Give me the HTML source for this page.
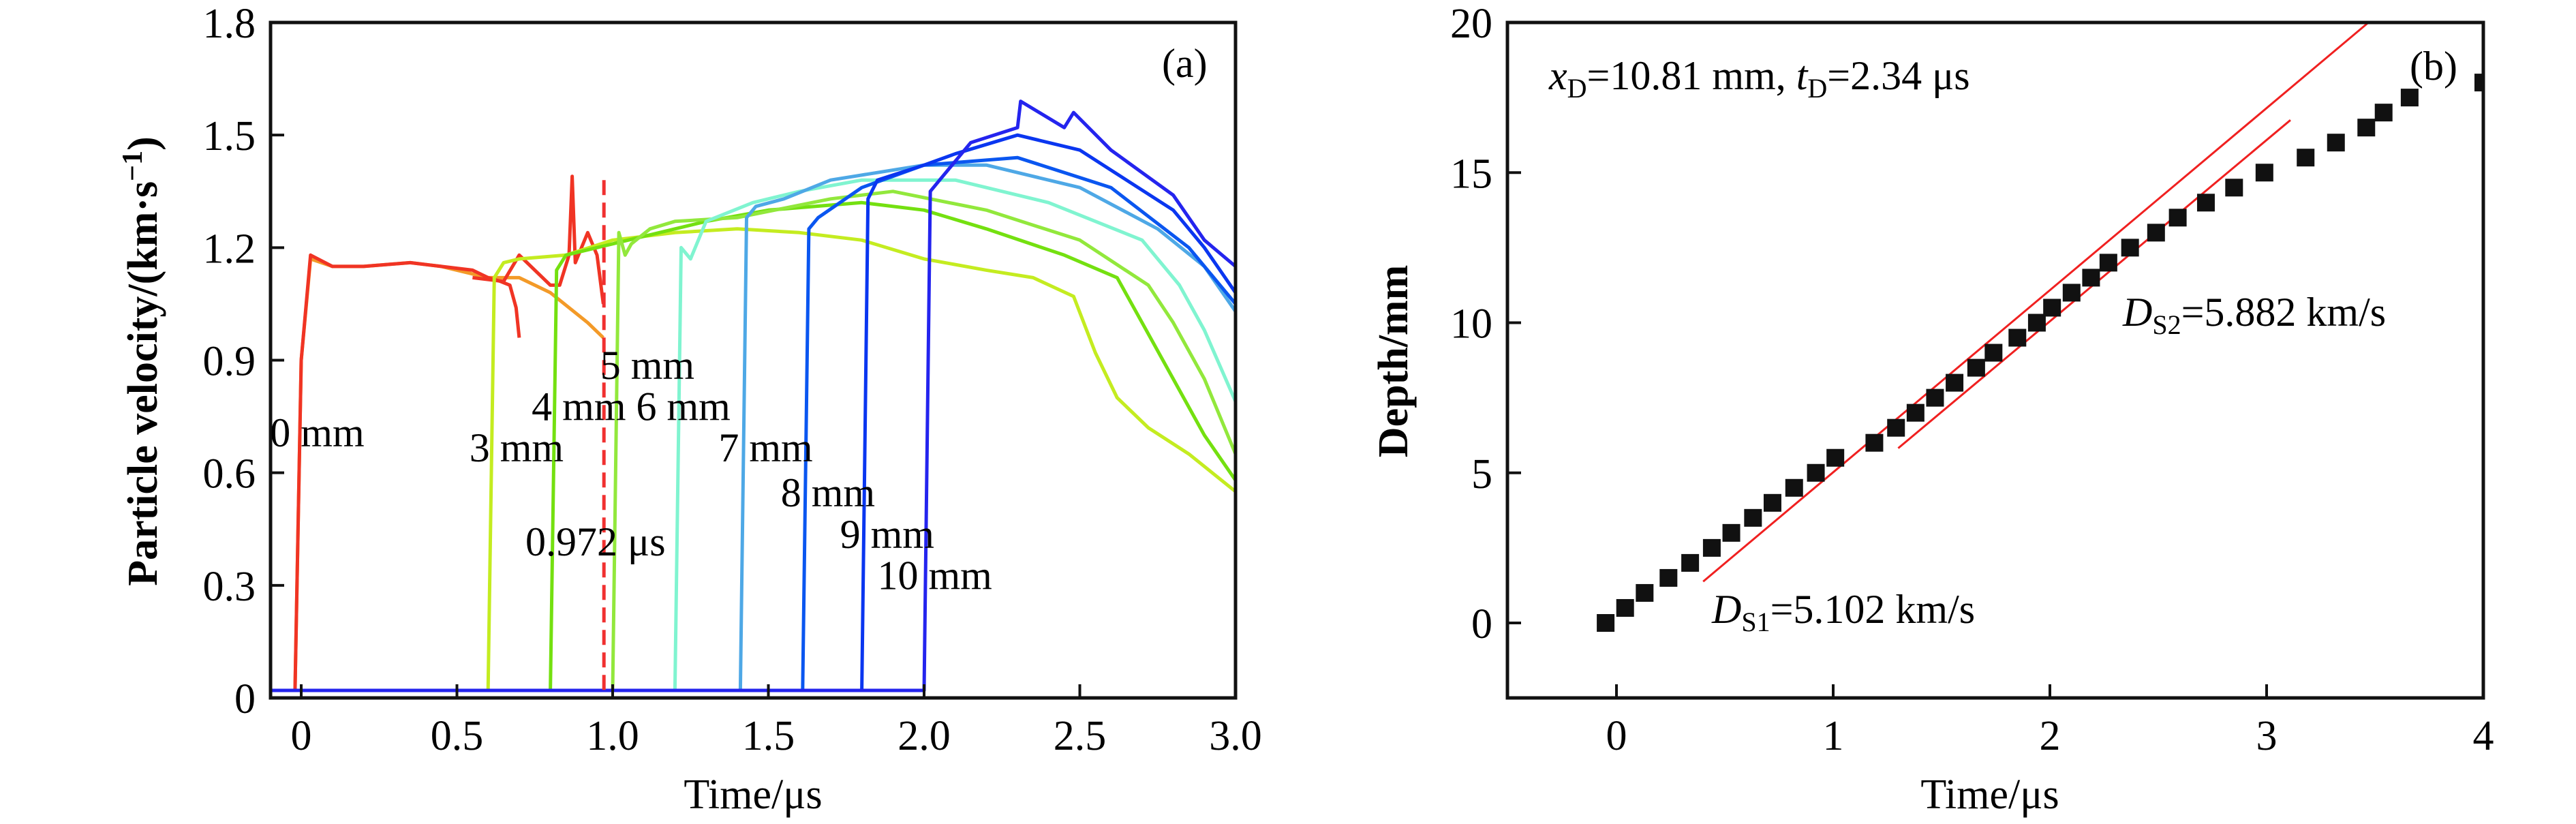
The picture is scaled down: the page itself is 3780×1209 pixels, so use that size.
<!DOCTYPE html>
<html><head><meta charset="utf-8">
<style>
html,body{margin:0;padding:0;background:#fff;}
svg{display:block;font-family:"Liberation Serif",serif;}
</style></head>
<body>
<svg id="chart" width="3780" height="1209" viewBox="0 0 3780 1209" xmlns="http://www.w3.org/2000/svg">
<rect width="3780" height="1209" fill="#fff"/>
<g id="pa"></g>
<g id="pb"></g>
</svg>
<script>
// ---- Panel (a) data ----
const aXTicks = [0, 0.5, 1.0, 1.5, 2.0, 2.5, 3.0];
const aXTickLabels = ["0", "0.5", "1.0", "1.5", "2.0", "2.5", "3.0"];
const aYTicks = [0, 0.3, 0.6, 0.9, 1.2, 1.5, 1.8];
const aYTickLabels = ["0", "0.3", "0.6", "0.9", "1.2", "1.5", "1.8"];
const seriesNames = ["0mm-a", "0mm-b", "0mm-c", "3mm", "4mm", "5mm", "6mm", "7mm", "8mm", "9mm", "10mm"];
const seriesColors = ["#f39a28", "#f03424", "#f03424", "#c4ec20", "#74e010", "#92e83c", "#80f4d0", "#4ea8e6", "#0a56f0", "#0a36f0", "#2424ee"];
const seriesT = [
 [-0.1,-0.02,0.0,0.03,0.1,0.2,0.35,0.45,0.6,0.7,0.8,0.86,0.92,0.97],
 [-0.1,-0.02,0.0,0.03,0.1,0.2,0.35,0.45,0.55,0.6,0.64,0.67,0.69,0.70],
 [0.55,0.65,0.7,0.8,0.83,0.86,0.87,0.88,0.9,0.92,0.95,0.97],
 [-0.1,0.6,0.62,0.65,0.7,0.85,1.0,1.2,1.4,1.6,1.8,2.0,2.2,2.35,2.48,2.55,2.62,2.72,2.85,3.0],
 [-0.1,0.8,0.82,0.85,1.0,1.1,1.3,1.5,1.8,2.0,2.2,2.45,2.62,2.7,2.8,2.9,3.0],
 [-0.1,1.0,1.02,1.04,1.06,1.12,1.2,1.4,1.7,1.9,2.2,2.5,2.72,2.8,2.9,3.0],
 [-0.1,1.2,1.22,1.25,1.3,1.45,1.6,1.8,2.1,2.4,2.7,2.82,2.9,3.0],
 [-0.1,1.41,1.43,1.46,1.55,1.7,2.0,2.2,2.5,2.75,2.9,3.0],
 [-0.1,1.61,1.63,1.66,1.8,2.0,2.3,2.6,2.85,3.0],
 [-0.1,1.8,1.82,1.85,2.0,2.1,2.3,2.5,2.8,2.9,3.0],
 [-0.1,2.0,2.02,2.05,2.15,2.3,2.31,2.45,2.48,2.6,2.8,2.9,3.0]
];
const seriesV = [
 [0.02,0.02,0.9,1.17,1.15,1.15,1.16,1.15,1.12,1.12,1.08,1.04,1.0,0.96],
 [0.02,0.02,0.9,1.18,1.15,1.15,1.16,1.15,1.14,1.12,1.11,1.10,1.04,0.96],
 [1.12,1.11,1.18,1.10,1.10,1.18,1.39,1.16,1.2,1.24,1.18,1.05],
 [0.02,0.02,1.12,1.16,1.17,1.18,1.22,1.24,1.25,1.24,1.22,1.17,1.14,1.12,1.07,0.92,0.8,0.72,0.65,0.55],
 [0.02,0.02,1.14,1.18,1.21,1.23,1.27,1.30,1.32,1.30,1.25,1.18,1.12,1.0,0.85,0.7,0.58],
 [0.02,0.02,1.24,1.18,1.21,1.25,1.27,1.28,1.33,1.35,1.30,1.22,1.10,1.0,0.85,0.65],
 [0.02,0.02,1.2,1.17,1.27,1.32,1.35,1.38,1.38,1.32,1.22,1.10,0.98,0.79],
 [0.02,0.02,1.28,1.31,1.33,1.38,1.42,1.42,1.36,1.25,1.15,1.03],
 [0.02,0.02,1.25,1.28,1.36,1.42,1.44,1.36,1.20,1.05],
 [0.02,0.02,1.33,1.38,1.42,1.45,1.50,1.46,1.30,1.20,1.08],
 [0.02,0.02,1.35,1.38,1.48,1.52,1.59,1.52,1.56,1.46,1.34,1.22,1.15]
];
const aLabels = ["0 mm","3 mm","5 mm","4 mm 6 mm","7 mm","8 mm","9 mm","10 mm","0.972 μs"];
const aLabelT = [-0.1,0.54,0.96,0.74,1.34,1.54,1.73,1.85,0.72];
const aLabelV = [0.67,0.63,0.85,0.74,0.63,0.51,0.40,0.29,0.38];
const markerT = 0.972;

// ---- Panel (b) data ----
const bXTicks = [0,1,2,3,4];
const bXTickLabels = ["0","1","2","3","4"];
const bYTicks = [0,5,10,15,20];
const bYTickLabels = ["0","5","10","15","20"];
const pointT = [-0.05,0.04,0.13,0.24,0.34,0.44,0.53,0.63,0.72,0.82,0.92,1.01,1.19,1.29,1.38,1.47,1.56,1.66,1.74,1.85,1.94,2.01,2.10,2.19,2.27,2.37,2.49,2.59,2.72,2.85,2.99,3.18,3.32,3.46,3.54,3.66,4.0];
const pointD = [0,0.5,1,1.5,2,2.5,3,3.5,4,4.5,5,5.5,6,6.5,7,7.5,8,8.5,9,9.5,10,10.5,11,11.5,12,12.5,13,13.5,14,14.5,15,15.5,16,16.5,17,17.5,18];
const fitT = [[0.40,3.47],[1.30,3.11]];
const fitD = [[1.38,20],[5.82,16.75]];

const NS = "http://www.w3.org/2000/svg";
function mk(parent, tag, attrs, text){
  const e = document.createElementNS(NS, tag);
  for (const k in attrs) e.setAttribute(k, attrs[k]);
  if (text !== undefined) e.textContent = text;
  parent.appendChild(e); return e;
}

const ax = t => 442 + (t) * 457;
const ay = v => 1024 - v * (991/1.8);
const bx = t => 2372 + t * 318;
const by = d => 914 - d * (881/20);

const pa = document.getElementById('pa');
const pb = document.getElementById('pb');

seriesNames.forEach((nm, i) => {
  const pts = seriesT[i].map((t, j) => ax(t).toFixed(1) + "," + ay(seriesV[i][j]).toFixed(1)).join(" ");
  const pl = mk(pa, 'polyline', {points: pts, fill: 'none', stroke: seriesColors[i], 'stroke-width': 5, 'stroke-linejoin': 'round'});
  
  
});
const dl = mk(pa, 'line', {x1: ax(markerT), x2: ax(markerT), y1: ay(1.38), y2: ay(0), stroke: '#f03030', 'stroke-width': 5, 'stroke-dasharray': '22 11'});



const fa = mk(pa, 'rect', {x: 397, y: 33, width: 1416, height: 991, fill: 'none', stroke: '#111', 'stroke-width': 5});


aXTicks.forEach((t, i) => {
  mk(pa, 'line', {x1: ax(t), x2: ax(t), y1: 1024, y2: 1004, stroke: '#111', 'stroke-width': 4});
  const tx = mk(pa, 'text', {x: ax(t), y: 1100, 'font-size': 62, 'text-anchor': 'middle'}, aXTickLabels[i]);
  
  
});
aYTicks.forEach((v, i) => {
  mk(pa, 'line', {x1: 397, x2: 417, y1: ay(v), y2: ay(v), stroke: '#111', 'stroke-width': 4});
  const tx = mk(pa, 'text', {x: 375, y: ay(v) + 22, 'font-size': 62, 'text-anchor': 'end'}, aYTickLabels[i]);
  
  
});
aLabels.forEach((s, i) => {
  const tx = mk(pa, 'text', {x: ax(aLabelT[i]), y: ay(aLabelV[i]), 'font-size': 60}, s);
  
  
});
let t1 = mk(pa, 'text', {x: 1705, y: 113, 'font-size': 60}, '(a)');
 
let t2 = mk(pa, 'text', {x: 1105, y: 1186, 'font-size': 62, 'text-anchor': 'middle'}, 'Time/μs');
 
let t3 = mk(pa, 'text', {x: 0, y: 0, 'font-size': 62, 'font-weight': 'bold', 'text-anchor': 'middle', transform: 'translate(230,530) rotate(-90)'});
 
t3.innerHTML = 'Particle velocity/(km·s<tspan dy="-22" font-size="42">−1</tspan><tspan dy="22">)</tspan>';

fitT.forEach((tt, i) => {
  const l = mk(pb, 'line', {x1: bx(tt[0]), y1: by(fitD[i][0]), x2: bx(tt[1]), y2: by(fitD[i][1]), stroke: '#f02020', 'stroke-width': 3});
  
  
});
pointT.forEach((t, i) => {
  const r = mk(pb, 'rect', {x: bx(t) - 13, y: by(pointD[i]) - 13, width: 26, height: 26, fill: '#111'});
  
  
});
mk(pb, 'rect', {x: 3646, y: 0, width: 134, height: 1209, fill: '#fff'});
mk(pb, 'rect', {x: 2210, y: 0, width: 1440, height: 31, fill: '#fff'});
const fb = mk(pb, 'rect', {x: 2212, y: 33, width: 1432, height: 991, fill: 'none', stroke: '#111', 'stroke-width': 5});


bXTicks.forEach((t, i) => {
  mk(pb, 'line', {x1: bx(t), x2: bx(t), y1: 1024, y2: 1004, stroke: '#111', 'stroke-width': 4});
  const tx = mk(pb, 'text', {x: bx(t), y: 1100, 'font-size': 62, 'text-anchor': 'middle'}, bXTickLabels[i]);
  
  
});
bYTicks.forEach((v, i) => {
  mk(pb, 'line', {x1: 2212, x2: 2232, y1: by(v), y2: by(v), stroke: '#111', 'stroke-width': 4});
  const tx = mk(pb, 'text', {x: 2190, y: by(v) + 22, 'font-size': 62, 'text-anchor': 'end'}, bYTickLabels[i]);
  
  
});
let b1 = mk(pb, 'text', {x: 3536, y: 117, 'font-size': 60}, '(b)');
 
let b2 = mk(pb, 'text', {x: 2920, y: 1186, 'font-size': 62, 'text-anchor': 'middle'}, 'Time/μs');
 
let b3 = mk(pb, 'text', {x: 0, y: 0, 'font-size': 62, 'font-weight': 'bold', 'text-anchor': 'middle', transform: 'translate(2065,530) rotate(-90)'}, 'Depth/mm');
 
let b4 = mk(pb, 'text', {x: 2273, y: 131, 'font-size': 60});
 
b4.innerHTML = '<tspan font-style="italic">x</tspan><tspan font-size="40" dy="12">D</tspan><tspan dy="-12">=10.81 mm, </tspan><tspan font-style="italic">t</tspan><tspan font-size="40" dy="12">D</tspan><tspan dy="-12">=2.34 μs</tspan>';
let b5 = mk(pb, 'text', {x: 3115, y: 478, 'font-size': 60});
 
b5.innerHTML = '<tspan font-style="italic">D</tspan><tspan font-size="40" dy="12">S2</tspan><tspan dy="-12">=5.882 km/s</tspan>';
let b6 = mk(pb, 'text', {x: 2512, y: 914, 'font-size': 60});
 
b6.innerHTML = '<tspan font-style="italic">D</tspan><tspan font-size="40" dy="12">S1</tspan><tspan dy="-12">=5.102 km/s</tspan>';
</script>
</body></html>
